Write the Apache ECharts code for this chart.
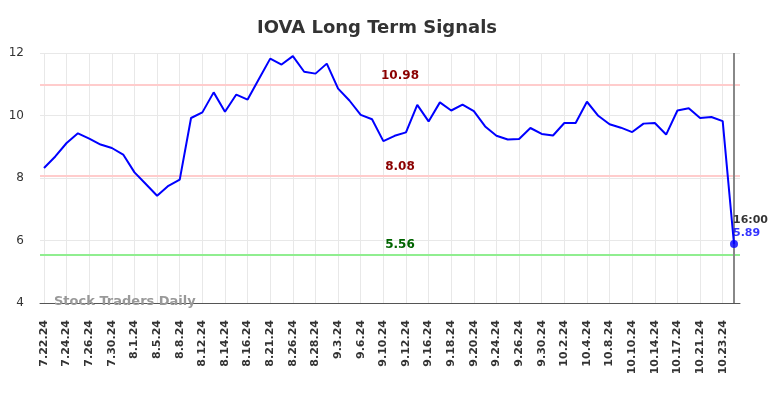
<!DOCTYPE html>
<html>
<head>
<meta charset="utf-8">
<script src="https://cdn.jsdelivr.net/npm/echarts@6/dist/echarts.min.js"></script>
<style>
  html, body { margin: 0; padding: 0; background: #fff; }
  #chart { width: 784px; height: 398px; }
</style>
</head>
<body>
<div id="chart"></div>
<script>
// dates (every other one is shown on the axis)
const dates = [
  '7.22.24', '7.23.24', '7.24.24', '7.25.24', '7.26.24', '7.29.24', '7.30.24', '7.31.24',
  '8.1.24', '8.2.24', '8.5.24', '8.7.24', '8.8.24', '8.9.24', '8.12.24', '8.13.24',
  '8.14.24', '8.15.24', '8.16.24', '8.20.24', '8.21.24', '8.23.24', '8.26.24', '8.27.24',
  '8.28.24', '8.30.24', '9.3.24', '9.5.24', '9.6.24', '9.9.24', '9.10.24', '9.11.24',
  '9.12.24', '9.13.24', '9.16.24', '9.17.24', '9.18.24', '9.19.24', '9.20.24', '9.23.24',
  '9.24.24', '9.25.24', '9.26.24', '9.27.24', '9.30.24', '10.1.24', '10.2.24', '10.3.24',
  '10.4.24', '10.7.24', '10.8.24', '10.9.24', '10.10.24', '10.11.24', '10.14.24', '10.16.24',
  '10.17.24', '10.18.24', '10.21.24', '10.22.24', '10.23.24', '10.24.24'
]
const prices = [
  8.32, 8.69, 9.12, 9.43, 9.26, 9.07, 8.96, 8.75, 8.18, 7.81, 7.43, 7.75, 7.95,
  9.92, 10.1, 10.74, 10.12, 10.67, 10.51, 11.17, 11.82, 11.63, 11.9, 11.4, 11.34,
  11.66, 10.86, 10.48, 10.02, 9.88, 9.18, 9.35, 9.46, 10.34, 9.81, 10.42, 10.16,
  10.35, 10.14, 9.65, 9.35, 9.23, 9.25, 9.6, 9.41, 9.36, 9.76, 9.76, 10.44, 9.99,
  9.72, 9.61, 9.47, 9.74, 9.76, 9.39, 10.16, 10.23, 9.92, 9.95, 9.82, 5.89
]
const signals = [10.98, 8.08, 5.56]
const yTicks = [4, 6, 8, 10, 12]
const lastTime = '16:00'

const signalColors = ['#ffcccc', '#ffcccc', '#90ee90']
const signalText = ['#8b0000', '#8b0000', '#006400']
const lastIdx = prices.length - 1

const chart = echarts.init(document.getElementById('chart'))
chart.setOption({
  animation: false,
  title: {
    text: 'IOVA Long Term Signals',
    left: 252,
    top: 14,
    textStyle: { fontFamily: 'DejaVu Sans', fontSize: 18, fontWeight: 'bold', color: '#333' }
  },
  grid: [
    { left: 44, right: 50, top: 53, bottom: 95 },
    { left: 40, right: 44, top: 53, bottom: 95 }
  ],
  xAxis: [
    {
      type: 'category',
      gridIndex: 0,
      data: dates,
      boundaryGap: false,
      axisLine: { show: false },
      axisTick: { show: false },
      axisLabel: {
        interval: 1,
        rotate: 90,
        margin: 17,
        fontFamily: 'DejaVu Sans',
        fontSize: 11,
        fontWeight: 'bold',
        color: '#333'
      },
      splitLine: { show: true, interval: 1, lineStyle: { color: '#e8e8e8', width: 1 } }
    },
    {
      type: 'value',
      gridIndex: 1,
      min: 0,
      max: 1,
      axisLine: { show: true, onZero: false, lineStyle: { color: '#555', width: 1 } },
      axisTick: { show: false },
      axisLabel: { show: false },
      splitLine: { show: false }
    }
  ],
  yAxis: [
    { type: 'value', gridIndex: 0, min: yTicks[0], max: yTicks[yTicks.length - 1], interval: 2, show: false },
    {
      type: 'value',
      gridIndex: 1,
      min: yTicks[0],
      max: yTicks[yTicks.length - 1],
      interval: 2,
      axisLine: { show: false },
      axisTick: { show: false },
      axisLabel: { margin: 16, fontFamily: 'DejaVu Sans', fontSize: 12, color: '#333' },
      splitLine: { lineStyle: { color: '#e8e8e8', width: 1 } }
    }
  ],
  graphic: [
    {
      type: 'text',
      left: 54,
      top: 295,
      z: 50,
      style: {
        text: 'Stock Traders Daily',
        fill: '#999',
        font: 'bold 13px "DejaVu Sans"'
      }
    }
  ],
  series: [
    {
      type: 'line',
      xAxisIndex: 1,
      yAxisIndex: 1,
      data: [],
      silent: true,
      markLine: {
        symbol: 'none',
        silent: true,
        data: signals.map((v, i) => ({
          yAxis: v,
          lineStyle: { color: signalColors[i], width: 2, type: 'solid' },
          label: {
            show: true,
            position: 'insideMiddleTop',
            distance: 3,
            formatter: v.toFixed(2),
            fontFamily: 'DejaVu Sans',
            fontSize: 12,
            fontWeight: 'bold',
            color: signalText[i],
            offset: [10, 0]
          }
        }))
      }
    },
    {
      type: 'line',
      xAxisIndex: 0,
      yAxisIndex: 0,
      data: prices,
      showSymbol: false,
      lineStyle: { color: '#0000ff', width: 2 },
      z: 5,
      markLine: {
        symbol: 'none',
        silent: true,
        label: { show: false },
        lineStyle: { color: '#888', width: 2, type: 'solid' },
        data: [{ xAxis: lastIdx }]
      }
    },
    {
      type: 'scatter',
      xAxisIndex: 0,
      yAxisIndex: 0,
      data: [[lastIdx, prices[lastIdx]]],
      symbol: 'circle',
      symbolSize: 8,
      itemStyle: { color: '#0000ff' },
      z: 6,
      label: {
        show: true,
        position: [3, -26],
        align: 'left',
        verticalAlign: 'top',
        formatter: () => '{t|' + lastTime + '}\n{v|' + prices[lastIdx].toFixed(2) + '}',
        rich: {
          t: { fontFamily: 'DejaVu Sans', fontSize: 11, fontWeight: 'bold', color: '#000', lineHeight: 13 },
          v: { fontFamily: 'DejaVu Sans', fontSize: 11, fontWeight: 'bold', color: '#0000ff', lineHeight: 13 }
        }
      }
    }
  ]
})
</script>
</body>
</html>
